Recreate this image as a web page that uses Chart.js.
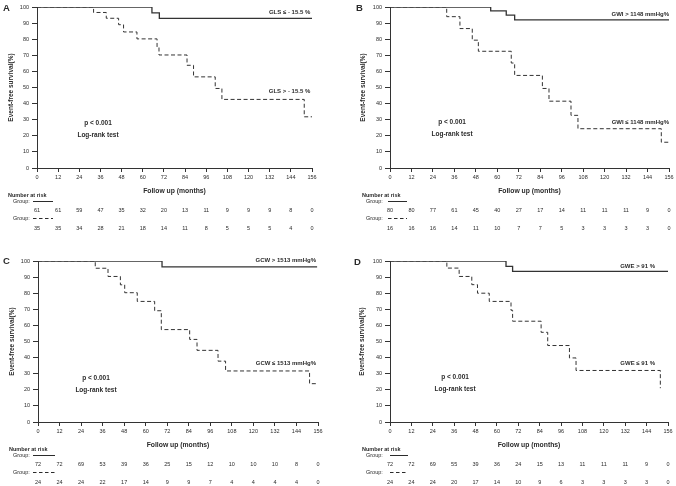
<!DOCTYPE html>
<html>
<head>
<meta charset="utf-8">
<script src="https://cdn.jsdelivr.net/npm/chart.js@4.4.0/dist/chart.umd.min.js"></script>
<style>
  html, body { margin: 0; padding: 0; background: #fff; }
  #wrap { position: relative; width: 676px; height: 486px; overflow: hidden; }
  .panel { position: absolute; width: 338px; height: 232px; }
</style>
</head>
<body>
<div id="wrap">
  <div class="panel" style="left:0;top:0"><canvas id="chartA" width="338" height="232"></canvas></div>
  <div class="panel" style="left:338px;top:0"><canvas id="chartB" width="338" height="232"></canvas></div>
  <div class="panel" style="left:0;top:254px"><canvas id="chartC" width="338" height="232"></canvas></div>
  <div class="panel" style="left:338px;top:254px"><canvas id="chartD" width="338" height="232"></canvas></div>
</div>
<script>
// Tick labels
const months = [0, 12, 24, 36, 48, 60, 72, 84, 96, 108, 120, 132, 144, 156];
const survivalTicks = [0, 10, 20, 30, 40, 50, 60, 70, 80, 90, 100];

// Panel A - GLS
const aSolidT = [0, 65.2, 69.4, 156];
const aSolidS = [100, 96.4, 92.9, 92.9];
const aDashT = [0, 32.1, 39.3, 46.3, 49.1, 56.7, 68.1, 69.2, 85.1, 88.8, 101.1, 104.9, 151.6, 156];
const aDashS = [100, 96.6, 93, 89, 84.5, 80.2, 75.2, 70.2, 63.8, 56.6, 49.4, 42.6, 31.8, 31.8];
const aRiskSolid = [61, 61, 59, 47, 35, 32, 20, 13, 11, 9, 9, 9, 8, 0];
const aRiskDash = [35, 35, 34, 28, 21, 18, 14, 11, 8, 5, 5, 5, 4, 0];

// Panel B - GWI
const bSolidT = [0, 56.3, 65, 69.7, 156];
const bSolidS = [100, 97.6, 95, 92, 92];
const bDashT = [0, 31.7, 39.1, 46, 49.4, 67.8, 69.7, 85.2, 88.9, 101.2, 105.1, 151.7, 156];
const bDashS = [100, 94, 86.6, 79.4, 72.5, 65.2, 57.5, 49.4, 41.5, 32.7, 24.4, 16, 16];
const bRiskSolid = [80, 80, 77, 61, 45, 40, 27, 17, 14, 11, 11, 11, 9, 0];
const bRiskDash = [16, 16, 16, 14, 11, 10, 7, 7, 5, 3, 3, 3, 3, 0];

// Panel C - GCW
const cSolidT = [0, 69.1, 155.5];
const cSolidS = [100, 96.3, 96.3];
const cDashT = [0, 31.9, 39, 45.9, 48.3, 55.3, 65, 68.7, 84.5, 88.6, 100.3, 104.5, 151.3, 155];
const cDashS = [100, 95.5, 90.4, 85.2, 80.3, 74.9, 69.1, 57.4, 51.3, 44.5, 37.8, 31.7, 23.8, 23.8];
const cRiskSolid = [72, 72, 69, 53, 39, 36, 25, 15, 12, 10, 10, 10, 8, 0];
const cRiskDash = [24, 24, 24, 22, 17, 14, 9, 9, 7, 4, 4, 4, 4, 0];

// Panel D - GWE
const dSolidT = [0, 65.1, 68.8, 156];
const dSolidS = [100, 96.6, 93.6, 93.6];
const dDashT = [0, 31.9, 38.8, 45.9, 49.1, 55.7, 67.9, 68.8, 84.8, 88.5, 100.7, 104.4, 151.7];
const dDashS = [100, 95.6, 90.4, 85.3, 80, 74.9, 69.4, 62.6, 55.7, 47.5, 39.8, 32, 21];
const dRiskSolid = [72, 72, 69, 55, 39, 36, 24, 15, 13, 11, 11, 11, 9, 0];
const dRiskDash = [24, 24, 24, 20, 17, 14, 10, 9, 6, 3, 3, 3, 3, 0];

const FONT = '"Liberation Sans", Arial, sans-serif';
const INK = '#2b2b2b';

const panels = [
  {
    id: 'chartA', letter: 'A', letterX: 3, letterY: 8,
    left: 37, right: 312, padLeft: 7,
    solid: [aSolidT, aSolidS], dash: [aDashT, aDashS],
    risk: [aRiskSolid, aRiskDash],
    labels: [
      { text: 'GLS \u2264 - 15.5 %', x: 155, y: 96.9 },
      { text: 'GLS > - 15.5 %', x: 155, y: 47.8 }
    ],
    pX: 34.6, pY: 28,
    tableX: 8, groupX: 13, sample: [33, 53]
  },
  {
    id: 'chartB', letter: 'B', letterX: 18, letterY: 8,
    left: 52, right: 331, padLeft: 21,
    solid: [bSolidT, bSolidS], dash: [bDashT, bDashS],
    risk: [bRiskSolid, bRiskDash],
    labels: [
      { text: 'GWI > 1148 mmHg%', x: 156, y: 95.7 },
      { text: 'GWI \u2264 1148 mmHg%', x: 156, y: 28.6 }
    ],
    pX: 34.7, pY: 28.6,
    tableX: 24, groupX: 28, sample: [50, 69]
  },
  {
    id: 'chartC', letter: 'C', letterX: 3, letterY: 7,
    left: 38, right: 318, padLeft: 8,
    solid: [cSolidT, cSolidS], dash: [cDashT, cDashS],
    risk: [cRiskSolid, cRiskDash],
    labels: [
      { text: 'GCW > 1513 mmHg%', x: 154.9, y: 100.6 },
      { text: 'GCW \u2264 1513 mmHg%', x: 154.9, y: 36.6 }
    ],
    pX: 32.3, pY: 27.2,
    tableX: 9, groupX: 13, sample: [33, 55]
  },
  {
    id: 'chartD', letter: 'D', letterX: 16, letterY: 8,
    left: 52, right: 330, padLeft: 20,
    solid: [dSolidT, dSolidS], dash: [dDashT, dDashS],
    risk: [dRiskSolid, dRiskDash],
    labels: [
      { text: 'GWE > 91 %', x: 148.7, y: 96.9 },
      { text: 'GWE \u2264 91 %', x: 148.7, y: 36.4 }
    ],
    pX: 36.5, pY: 27.7,
    tableX: 24, groupX: 28, sample: [52, 70]
  }
];

function toPoints(pair) {
  return pair[0].map((t, i) => ({ x: t, y: pair[1][i] }));
}

// Draws panel letter, curve labels, p-value and the number-at-risk table
function makeExtras(p) {
  return {
    id: 'kmExtras',
    afterDraw(chart) {
      const ctx = chart.ctx;
      const xs = chart.scales.x;
      const ys = chart.scales.y;
      const bottom = chart.chartArea.bottom;
      ctx.save();
      ctx.fillStyle = INK;
      ctx.strokeStyle = INK;
      ctx.textBaseline = 'middle';

      ctx.font = 'bold 9.5px ' + FONT;
      ctx.textAlign = 'left';
      ctx.fillText(p.letter, p.letterX, p.letterY);

      ctx.font = 'bold 6px ' + FONT;
      ctx.textAlign = 'right';
      p.labels.forEach(l => ctx.fillText(l.text, xs.getPixelForValue(l.x), ys.getPixelForValue(l.y)));

      ctx.font = 'bold 6.5px ' + FONT;
      ctx.textAlign = 'center';
      ctx.fillText('p < 0.001', xs.getPixelForValue(p.pX), ys.getPixelForValue(p.pY));
      ctx.fillText('Log-rank test', xs.getPixelForValue(p.pX), ys.getPixelForValue(p.pY - 7.5));

      // number at risk
      ctx.textAlign = 'left';
      ctx.font = 'bold 5.5px ' + FONT;
      ctx.fillText('Number at risk', p.tableX, bottom + 27);
      ctx.font = '5.5px ' + FONT;
      ctx.fillText('Group:', p.groupX, bottom + 33);
      ctx.fillText('Group:', p.groupX, bottom + 50);
      ctx.lineWidth = 1;
      ctx.beginPath();
      ctx.moveTo(p.sample[0], bottom + 33.5);
      ctx.lineTo(p.sample[1], bottom + 33.5);
      ctx.stroke();
      ctx.setLineDash([3.5, 2.5]);
      ctx.beginPath();
      ctx.moveTo(p.sample[0], bottom + 50.5);
      ctx.lineTo(p.sample[1], bottom + 50.5);
      ctx.stroke();
      ctx.setLineDash([]);

      ctx.textAlign = 'center';
      months.forEach((m, i) => {
        const px = xs.getPixelForValue(m);
        ctx.fillText(String(p.risk[0][i]), px, bottom + 42);
        ctx.fillText(String(p.risk[1][i]), px, bottom + 60);
      });
      ctx.restore();
    }
  };
}

panels.forEach(p => {
  const ctx = document.getElementById(p.id).getContext('2d');
  new Chart(ctx, {
    type: 'line',
    data: {
      datasets: [
        {
          data: toPoints(p.solid),
          borderColor: '#333',
          borderWidth: 1.3,
          stepped: true,
          pointRadius: 0,
          fill: false
        },
        {
          data: toPoints(p.dash),
          borderColor: '#333',
          borderWidth: 1,
          borderDash: [4, 2.5],
          stepped: true,
          pointRadius: 0,
          fill: false
        }
      ]
    },
    options: {
      responsive: false,
      animation: false,
      events: [],
      layout: {
        padding: { left: p.padLeft, right: 338 - p.right, top: 7, bottom: 37 }
      },
      plugins: {
        legend: { display: false },
        tooltip: { enabled: false },
        title: { display: false }
      },
      scales: {
        x: {
          type: 'linear',
          min: 0,
          max: 156,
          afterBuildTicks: s => { s.ticks = months.map(v => ({ value: v })); },
          afterFit: s => { s.height = 27; },
          grid: { drawOnChartArea: false, drawTicks: true, tickLength: 4, color: '#333' },
          border: { display: true, color: '#333', width: 1 },
          ticks: {
            autoSkip: false, maxRotation: 0, padding: 2,
            color: INK, font: { family: FONT, size: 5.5 }
          },
          title: {
            display: true, text: 'Follow up (months)', color: INK, padding: 0,
            font: { family: FONT, size: 6.8, weight: 'bold' }
          }
        },
        y: {
          type: 'linear',
          min: 0,
          max: 100,
          afterBuildTicks: s => { s.ticks = survivalTicks.map(v => ({ value: v })); },
          afterFit: s => { s.width = p.left - p.padLeft; },
          grid: { drawOnChartArea: false, drawTicks: true, tickLength: 5, color: '#333' },
          border: { display: true, color: '#333', width: 1 },
          ticks: {
            padding: 3, color: INK, font: { family: FONT, size: 5.5 }
          },
          title: {
            display: true, text: 'Event-free survival(%)', color: INK, padding: 0,
            font: { family: FONT, size: 6.5, weight: 'bold' }
          }
        }
      }
    },
    plugins: [makeExtras(p)]
  });
});
</script>
</body>
</html>
